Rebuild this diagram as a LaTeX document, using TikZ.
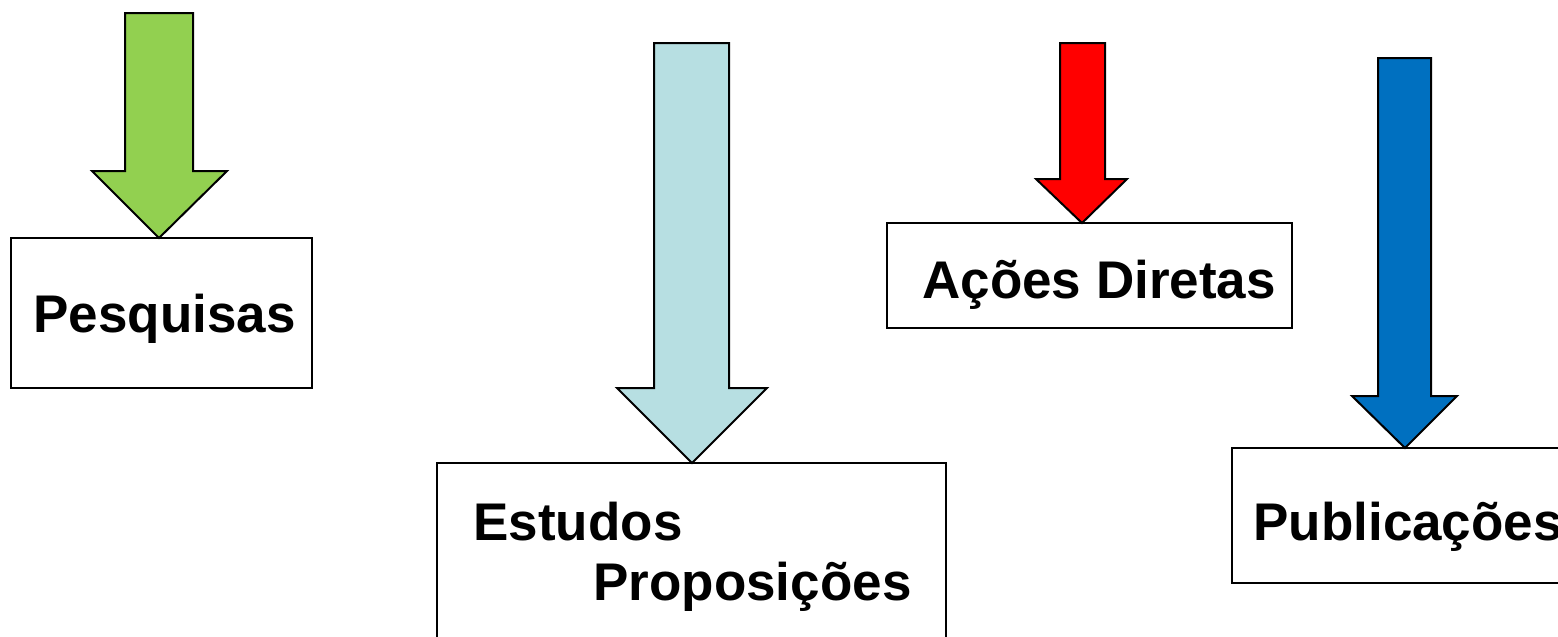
\documentclass[tikz,border=0pt]{standalone}
\usepackage{fontspec}
\setmainfont{Liberation Sans}
\usetikzlibrary{calc}
\definecolor{cgreen}{HTML}{92D050}
\definecolor{clblue}{HTML}{B7DFE2}
\definecolor{cred}{HTML}{FF0000}
\definecolor{cblue}{HTML}{0070C0}
\begin{document}
\begin{tikzpicture}[x=0.5pt,y=-0.5pt,
  box/.style={draw=black,line width=1.2pt,fill=white,rectangle,inner sep=0pt,outer sep=0pt,anchor=north west},
  lbl/.style={font=\fontsize{26.5}{30}\selectfont\bfseries,inner sep=0pt,anchor=base west},
  barrow/.style={draw=black,line width=1pt,line join=miter}]
\clip (0,0) rectangle (1558,637);
\fill[white] (0,0) rectangle (1558,637);
% boxes
\node[box,minimum width=150.5pt,minimum height=75pt] (pbox) at (11,238) {};
\node[box,minimum width=254.5pt,minimum height=118.5pt] (ebox) at (437,463) {};
\node[box,minimum width=202.5pt,minimum height=52.5pt] (abox) at (887,223) {};
\node[box,minimum width=184pt,minimum height=67.5pt] (ubox) at (1232,448) {};
% arrow tips
\coordinate (ptip) at ($(pbox.north west)+(148,0)$);
\coordinate (etip) at ($(ebox.north west)+(255,0)$);
\coordinate (atip) at ($(abox.north west)+(195,0)$);
\coordinate (utip) at ($(ubox.north west)+(173,0)$);
% block arrows
\draw[barrow,fill=cgreen] (125,13) -- (193,13) -- (193,171) -- (227,171) -- (ptip) -- (92,171) -- (125,171) -- cycle;
\draw[barrow,fill=clblue] (654,43) -- (729,43) -- (729,388) -- (767,388) -- (etip) -- (617,388) -- (654,388) -- cycle;
\draw[barrow,fill=cred] (1060,43) -- (1105,43) -- (1105,179) -- (1127,179) -- (atip) -- (1036,179) -- (1060,179) -- cycle;
\draw[barrow,fill=cblue] (1378,58) -- (1431,58) -- (1431,396) -- (1457,396) -- (utip) -- (1352,396) -- (1378,396) -- cycle;
% labels
\node[lbl] (tp) at (33,332) {Pesquisas};
\node[lbl] (te1) at (473,540) {Estudos};
\node[lbl] (te2) at (593,600) {Proposições};
\node[lbl] (ta) at (922,298) {Ações Diretas};
\node[lbl] (tu) at (1253,540) {Publicações};
\end{tikzpicture}
\end{document}
